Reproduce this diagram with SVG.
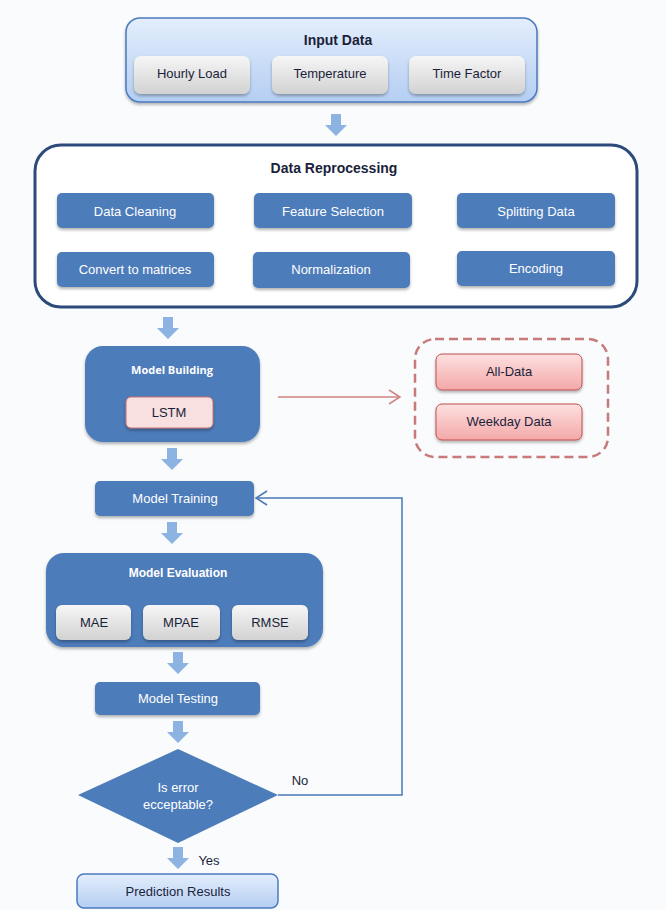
<svg xmlns="http://www.w3.org/2000/svg" width="666" height="910" viewBox="0 0 666 910">
<defs>
<linearGradient id="gBlueLight" x1="0" y1="0" x2="0" y2="1"><stop offset="0" stop-color="#e4eefc"/><stop offset="1" stop-color="#b4cef3"/></linearGradient>
<linearGradient id="gGray" x1="0" y1="0" x2="0" y2="1"><stop offset="0" stop-color="#f6f6f6"/><stop offset="1" stop-color="#d2d2d2"/></linearGradient>
<linearGradient id="gPink" x1="0" y1="0" x2="0" y2="1"><stop offset="0" stop-color="#fde0e0"/><stop offset="1" stop-color="#f4a8a8"/></linearGradient>
<filter id="sh" x="-10%" y="-10%" width="130%" height="140%"><feDropShadow dx="0" dy="2" stdDeviation="1.5" flood-color="#000" flood-opacity="0.3"/></filter>
<marker id="openArrowRed" markerWidth="14" markerHeight="16" refX="12" refY="8" orient="auto" markerUnits="userSpaceOnUse"><path d="M1,1 L12,8 L1,15" fill="none" stroke="#d08484" stroke-width="1.5"/></marker>
<marker id="openArrowBlue" markerWidth="14" markerHeight="16" refX="12" refY="8" orient="auto" markerUnits="userSpaceOnUse"><path d="M1,1 L12,8 L1,15" fill="none" stroke="#4a7ab8" stroke-width="1.5"/></marker>
<path id="blk" d="M-5,0 H5 V11 H11 L0,22 L-11,11 H-5 Z"/>
</defs>
<style>
.t{font-family:"Liberation Sans",Arial,sans-serif;font-size:13px;text-anchor:middle;dominant-baseline:central}
.dark{fill:#1a1f3a}
.wt{fill:#ffffff}
.b{font-weight:bold}
.blue{fill:#4d7cba;filter:url(#sh)}
.gray{fill:url(#gGray);filter:url(#sh)}
.ba{fill:#8db3e2}
</style>
<rect width="666" height="910" fill="#f9fbfc"/>

<g id="connectors">
<use href="#blk" x="336" y="114" class="ba"/>
<use href="#blk" x="168" y="317" class="ba"/>
<use href="#blk" x="172" y="448" class="ba"/>
<use href="#blk" x="172" y="522" class="ba"/>
<use href="#blk" x="178" y="652" class="ba"/>
<use href="#blk" x="178" y="721" class="ba"/>
<use href="#blk" x="178" y="847" class="ba"/>
<line x1="278" y1="397" x2="400" y2="397" stroke="#d08484" stroke-width="1.5" marker-end="url(#openArrowRed)"/>
<polyline points="278,795 402,795 402,498 256,498" fill="none" stroke="#4a7ab8" stroke-width="1.5" marker-end="url(#openArrowBlue)"/>
<text class="t dark" x="300" y="780">No</text>
<text class="t dark" x="209" y="860">Yes</text>
</g>

<g id="input-data">
<rect x="126" y="18" width="411" height="84" rx="14" fill="url(#gBlueLight)" stroke="#4a7bbf" stroke-width="1.5" filter="url(#sh)"/>
<text class="t dark b" x="338" y="40" style="font-size:14px">Input Data</text>
</g>
<g id="hourly-load"><rect x="134" y="56" width="116" height="38" rx="7" class="gray"/><text class="t dark" x="192" y="73">Hourly Load</text></g>
<g id="temperature"><rect x="272" y="56" width="116" height="38" rx="7" class="gray"/><text class="t dark" x="330" y="73">Temperature</text></g>
<g id="time-factor"><rect x="409" y="56" width="116" height="38" rx="7" class="gray"/><text class="t dark" x="467" y="73">Time Factor</text></g>

<g id="data-reprocessing">
<rect x="35" y="145" width="602" height="162" rx="26" fill="#ffffff" stroke="#2c4a7a" stroke-width="3"/>
<text class="t dark b" x="334" y="168" style="font-size:14px">Data Reprocessing</text>
</g>
<g id="data-cleaning"><rect x="57" y="193" width="157" height="35" rx="5" class="blue"/><text class="t wt" x="135" y="211">Data Cleaning</text></g>
<g id="feature-selection"><rect x="254" y="193" width="158" height="35" rx="5" class="blue"/><text class="t wt" x="333" y="211">Feature Selection</text></g>
<g id="splitting-data"><rect x="457" y="193" width="158" height="35" rx="5" class="blue"/><text class="t wt" x="536" y="211">Splitting Data</text></g>
<g id="convert-to-matrices"><rect x="57" y="252" width="157" height="35" rx="5" class="blue"/><text class="t wt" x="135" y="269">Convert to matrices</text></g>
<g id="normalization"><rect x="253" y="252" width="157" height="36" rx="5" class="blue"/><text class="t wt" x="331" y="269">Normalization</text></g>
<g id="encoding"><rect x="457" y="251" width="158" height="35" rx="5" class="blue"/><text class="t wt" x="536" y="268">Encoding</text></g>

<g id="model-building">
<rect x="85" y="346" width="175" height="96" rx="18" class="blue"/>
<text class="t wt b" x="172" y="369" style="font-family:'Open Sans','Liberation Sans',sans-serif;font-size:11px">Model Building</text>
</g>
<g id="lstm"><rect x="126" y="397" width="87" height="31" rx="5" fill="#f8e0e0" stroke="#c47070" stroke-width="1" filter="url(#sh)"/><text class="t dark" x="169" y="412">LSTM</text></g>

<g id="datasets"><rect x="415" y="339" width="193" height="118" rx="20" fill="none" stroke="#c87a7a" stroke-width="2.5" stroke-dasharray="9,5"/></g>
<g id="all-data"><rect x="436" y="354" width="146" height="36" rx="6" fill="url(#gPink)" stroke="#c05050" stroke-width="1" filter="url(#sh)"/><text class="t dark" x="509" y="371">All-Data</text></g>
<g id="weekday-data"><rect x="436" y="404" width="146" height="36" rx="6" fill="url(#gPink)" stroke="#c05050" stroke-width="1" filter="url(#sh)"/><text class="t dark" x="509" y="421">Weekday Data</text></g>

<g id="model-training"><rect x="95" y="481" width="159" height="35" rx="5" class="blue"/><text class="t wt" x="175" y="498">Model Training</text></g>

<g id="model-evaluation">
<rect x="46" y="553" width="277" height="94" rx="18" class="blue"/>
<text class="t wt b" x="178" y="573" style="font-size:12px">Model Evaluation</text>
</g>
<g id="mae"><rect x="56" y="605" width="75" height="35" rx="6" class="gray"/><text class="t dark" x="94" y="622">MAE</text></g>
<g id="mpae"><rect x="143" y="605" width="77" height="35" rx="6" class="gray"/><text class="t dark" x="181" y="622">MPAE</text></g>
<g id="rmse"><rect x="232" y="605" width="76" height="35" rx="6" class="gray"/><text class="t dark" x="270" y="622">RMSE</text></g>

<g id="model-testing"><rect x="95" y="682" width="165" height="33" rx="5" class="blue"/><text class="t wt" x="178" y="698">Model Testing</text></g>

<g id="decision">
<polygon points="78,795 178,749 278,795 178,843" fill="#4d7cba"/>
<text class="t wt" x="178" y="787">Is error</text>
<text class="t wt" x="178" y="804">ecceptable?</text>
</g>

<g id="prediction-results"><rect x="77" y="874" width="201" height="34" rx="7" fill="url(#gBlueLight)" stroke="#4a7bbf" stroke-width="1.5"/><text class="t dark" x="178" y="891">Prediction Results</text></g>
</svg>
